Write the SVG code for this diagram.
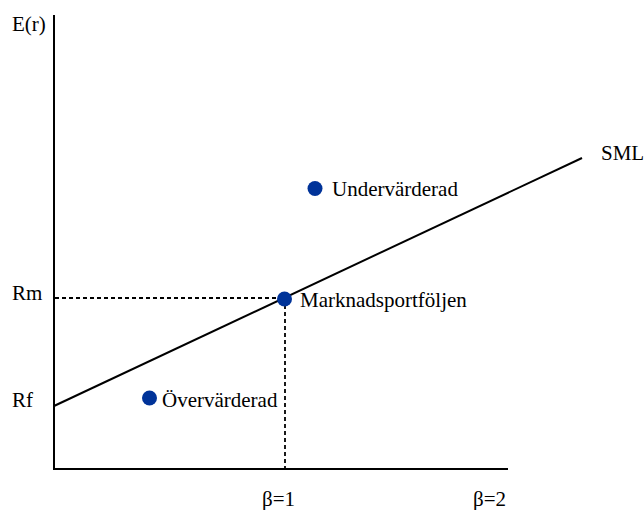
<svg xmlns="http://www.w3.org/2000/svg" width="644" height="510" viewBox="0 0 644 510">
<style>
text{font-family:'Liberation Serif','Times New Roman',Times,'DejaVu Serif',serif;font-size:21px;fill:#000}
.ax{stroke:#000;stroke-width:2;fill:none}
.ln{stroke:#000;stroke-width:2;fill:none}
.ds{stroke:#000;stroke-width:1.8;stroke-dasharray:4,3;fill:none}
.dot{fill:#003399}
</style>
<rect width="644" height="510" fill="#fff"/>
<g id="axes">
<line class="ax" x1="54" y1="15" x2="54" y2="470"/>
<line class="ax" x1="53" y1="469" x2="508" y2="469"/>
<text x="12" y="31">E(r)</text>
<text x="12" y="300">Rm</text>
<text x="12" y="407">Rf</text>
<text x="262" y="506">β=1</text>
<text x="473" y="506">β=2</text>
</g>
<g id="connectors">
<line class="ds" x1="55" y1="298" x2="284" y2="298"/>
<line class="ds" x1="285" y1="298" x2="285" y2="468"/>
<line class="ln" x1="54" y1="406" x2="582" y2="158"/>
</g>
<g id="sml"><text x="601" y="160">SML</text></g>
<g id="undervarderad">
<circle class="dot" cx="315" cy="188.5" r="7.5"/>
<text x="332" y="196">Undervärderad</text>
</g>
<g id="marknadsportfoljen">
<circle class="dot" cx="284.5" cy="299" r="7.5"/>
<text x="300" y="306.5">Marknadsportföljen</text>
</g>
<g id="overvarderad">
<circle class="dot" cx="149.5" cy="398" r="7.5"/>
<text x="162" y="406.5">Övervärderad</text>
</g>
</svg>
